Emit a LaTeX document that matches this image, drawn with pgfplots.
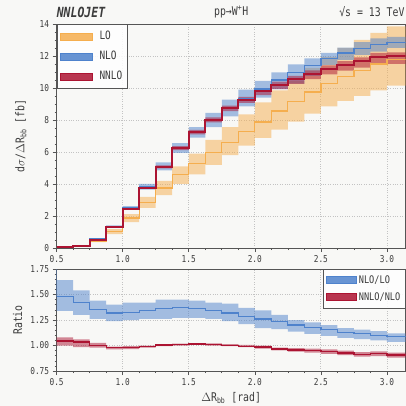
\documentclass[border=0pt]{standalone}
\usepackage{fontspec}
\setmainfont{DejaVu Sans Mono}[FakeStretch=0.82]
\usepackage{xcolor}
\usepackage{pgfplots}
\pgfplotsset{compat=1.18}
\usepgfplotslibrary{fillbetween}
\usepackage{pgfplotstable}

\definecolor{bgc}{RGB}{248,248,246}
\definecolor{loc}{RGB}{245,174,78}
\definecolor{nloc}{RGB}{78,130,204}
\definecolor{nnloc}{RGB}{172,20,50}
\definecolor{framec}{RGB}{85,85,85}
\definecolor{gridc}{RGB}{195,195,195}
\definecolor{txtc}{RGB}{60,60,60}

\pgfplotstableread{
x lo loup lodn nlo nloup nlodn nnlo nnloup nnlodn
0.5 0.03 0.035 0.025 0.05 0.06 0.04 0.05 0.055 0.045
0.625 0.10 0.12 0.085 0.15 0.17 0.13 0.13 0.14 0.12
0.75 0.42 0.48 0.36 0.56 0.60 0.52 0.53 0.55 0.51
0.875 1.02 1.18 0.86 1.33 1.42 1.25 1.29 1.32 1.26
1.0 1.87 2.12 1.62 2.50 2.62 2.40 2.46 2.51 2.41
1.125 2.85 3.20 2.50 3.82 4.00 3.65 3.78 3.85 3.70
1.25 3.75 4.20 3.30 5.10 5.35 4.85 5.07 5.16 4.97
1.375 4.58 5.10 4.00 6.25 6.55 5.95 6.25 6.36 6.12
1.5 5.27 5.90 4.60 7.20 7.55 6.90 7.25 7.38 7.10
1.625 5.97 6.75 5.20 8.05 8.44 7.55 8.02 8.16 7.85
1.75 6.60 7.55 5.80 8.75 9.27 8.23 8.75 8.90 8.56
1.875 7.27 8.35 6.40 9.35 9.90 8.85 9.28 9.45 9.07
2.0 7.88 9.10 6.88 9.93 10.45 9.40 9.80 9.98 9.56
2.125 8.56 9.85 7.40 10.50 10.98 9.93 10.20 10.40 9.93
2.25 9.15 10.45 7.90 10.95 11.48 10.28 10.55 10.76 10.25
2.375 9.75 11.25 8.40 11.42 11.85 10.76 10.88 11.10 10.55
2.5 10.28 11.95 8.85 11.85 12.20 11.45 11.20 11.42 10.85
2.625 10.70 12.50 9.20 12.18 12.53 11.76 11.45 11.68 11.08
2.75 11.10 13.00 9.50 12.49 12.86 12.07 11.68 11.92 11.28
2.875 11.50 13.45 9.85 12.74 13.10 12.28 11.95 12.20 11.52
3.0 11.78 13.85 10.15 12.86 13.20 12.50 11.98 12.22 11.50
3.1416 11.78 13.85 10.15 12.86 13.20 12.50 11.98 12.22 11.50
}\tabmain

\pgfplotstableread{
x ra raup radn rb rbup rbdn
0.375 2.0 2.0 2.0 1.043 1.08 1.00
0.5 1.477 1.64 1.34 1.043 1.08 1.00
0.625 1.42 1.54 1.30 1.033 1.06 0.985
0.75 1.35 1.44 1.26 1.00 1.025 0.98
0.875 1.32 1.40 1.24 0.977 0.99 0.963
1.0 1.325 1.42 1.25 0.977 0.993 0.965
1.125 1.34 1.42 1.26 0.99 1.0 0.978
1.25 1.36 1.45 1.26 1.005 1.013 0.995
1.375 1.37 1.45 1.27 1.01 1.018 1.0
1.5 1.36 1.44 1.27 1.015 1.023 1.005
1.625 1.34 1.42 1.26 1.01 1.02 1.0
1.75 1.32 1.41 1.24 1.003 1.013 0.993
1.875 1.286 1.37 1.21 0.993 1.005 0.983
2.0 1.26 1.345 1.17 0.985 0.998 0.97
2.125 1.234 1.30 1.16 0.966 0.98 0.952
2.25 1.20 1.25 1.135 0.957 0.975 0.94
2.375 1.178 1.227 1.115 0.95 0.97 0.93
2.5 1.155 1.20 1.095 0.94 0.962 0.918
2.625 1.13 1.17 1.076 0.926 0.95 0.905
2.75 1.115 1.155 1.063 0.915 0.936 0.892
2.875 1.10 1.14 1.05 0.922 0.942 0.895
3.0 1.09 1.12 1.036 0.908 0.93 0.88
3.1416 1.09 1.12 1.036 0.908 0.93 0.88
}\tabratio

\pgfplotsset{
  myaxis/.style={
    scale only axis,
    width=349pt,
    xmin=0.5, xmax=3.1416,
    clip mode=individual,
    axis line style={framec, line width=0.8pt},
    tick align=outside,
    tick pos=left,
    major tick length=4pt,
    minor tick length=2pt,
    every tick/.style={framec, line width=0.6pt},
    grid=major,
    major grid style={gridc, dotted, line width=0.8pt},
    xtick={0.5,1.0,1.5,2.0,2.5,3.0},
    minor x tick num=3,
    /pgf/number format/assume math mode=true,
    tick label style={font=\fontsize{9.5}{10}\selectfont, text=txtc},
    xticklabel style={/pgf/number format/fixed, /pgf/number format/fixed zerofill, /pgf/number format/precision=1},
    label style={font=\fontsize{12}{13}\selectfont, text=txtc},
    legend cell align=left,
    legend style={draw=framec, fill=white, fill opacity=0.85, text opacity=1,
      font=\fontsize{11.5}{12}\selectfont, text=txtc, inner xsep=3pt, inner ysep=5pt,
      row sep=6pt, line width=0.6pt},
  },
  patch/.style={legend image code/.code={\fill[#1] (0pt,-3.5pt) rectangle (32pt,3.5pt); \path (37pt,0pt);}},
  patchb/.style={legend image code/.code={\fill[#1] (0pt,-3.5pt) rectangle (30pt,3.5pt);}},
}

\begin{document}
\pagecolor{bgc}
\begin{tikzpicture}

\begin{axis}[myaxis, at={(0pt,0pt)}, anchor=north west, height=224pt,
  ymin=0, ymax=14, ytick={0,2,...,14}, minor y tick num=3,
  ylabel={d$\sigma$/$\Delta$R\textsubscript{bb} [fb]},
  ylabel style={at={(axis description cs:0,0.5)}, anchor=center, yshift=35.7pt},
  legend style={at={(0,1)}, anchor=north west}]
\addlegendimage{patch=loc}
\addlegendentry{LO}
\addlegendimage{patch=nloc}
\addlegendentry{NLO}
\addlegendimage{patch=nnloc}
\addlegendentry{NNLO}

\addplot[name path=loU, const plot, draw=none, forget plot] table[x=x,y=loup]{\tabmain};
\addplot[name path=loD, const plot, draw=none, forget plot] table[x=x,y=lodn]{\tabmain};
\addplot[loc, fill opacity=0.5, draw=none, forget plot] fill between[of=loU and loD];
\addplot[loc, line width=1.3pt, const plot, forget plot] table[x=x,y=lo]{\tabmain};

\addplot[name path=nloU, const plot, draw=none, forget plot] table[x=x,y=nloup]{\tabmain};
\addplot[name path=nloD, const plot, draw=none, forget plot] table[x=x,y=nlodn]{\tabmain};
\addplot[nloc, fill opacity=0.5, draw=none, forget plot] fill between[of=nloU and nloD];
\addplot[nloc, line width=1.3pt, const plot, forget plot] table[x=x,y=nlo]{\tabmain};

\addplot[name path=nnloU, const plot, draw=none, forget plot] table[x=x,y=nnloup]{\tabmain};
\addplot[name path=nnloD, const plot, draw=none, forget plot] table[x=x,y=nnlodn]{\tabmain};
\addplot[nnloc, fill opacity=0.5, draw=none, forget plot] fill between[of=nnloU and nnloD];
\addplot[nnloc, line width=2pt, const plot, forget plot] table[x=x,y=nnlo]{\tabmain};

\node[anchor=west, font=\fontsize{14}{15}\selectfont\bfseries\itshape, text=txtc, yshift=12pt, inner xsep=0pt] at (axis description cs:0,1) {NNLOJET};
\node[font=\fontsize{12}{13}\selectfont, text=txtc, yshift=12pt] at (axis description cs:0.5,1) {pp→W\textsuperscript{+}H};
\node[anchor=east, font=\fontsize{12}{13}\selectfont, text=txtc, yshift=12pt, inner xsep=1pt] at (axis description cs:1,1) {√s = 13 TeV};
\end{axis}

\begin{axis}[myaxis, at={(0pt,-245pt)}, anchor=north west, height=102pt,
  ymin=0.75, ymax=1.75, ytick={0.75,1.0,1.25,1.5,1.75}, minor y tick num=4,
  yticklabel style={/pgf/number format/fixed, /pgf/number format/fixed zerofill, /pgf/number format/precision=2},
  ylabel={Ratio},
  ylabel style={at={(axis description cs:0,0.5)}, anchor=center, yshift=39pt},
  xlabel={$\Delta$R\textsubscript{bb} [rad]},
  legend style={at={(1,1)}, anchor=north east, font=\fontsize{10.5}{12}\selectfont, row sep=4pt, inner ysep=4pt}]
\addlegendimage{patchb=nloc}
\addlegendentry{NLO/LO}
\addlegendimage{patchb=nnloc}
\addlegendentry{NNLO/NLO}

\addplot[name path=raU, const plot, draw=none, forget plot] table[x=x,y=raup]{\tabratio};
\addplot[name path=raD, const plot, draw=none, forget plot] table[x=x,y=radn]{\tabratio};
\addplot[nloc, fill opacity=0.5, draw=none, forget plot] fill between[of=raU and raD];
\addplot[nloc, line width=1.3pt, const plot, forget plot] table[x=x,y=ra]{\tabratio};

\addplot[name path=rbU, const plot, draw=none, forget plot] table[x=x,y=rbup]{\tabratio};
\addplot[name path=rbD, const plot, draw=none, forget plot] table[x=x,y=rbdn]{\tabratio};
\addplot[nnloc, fill opacity=0.5, draw=none, forget plot] fill between[of=rbU and rbD];
\addplot[nnloc, line width=1.3pt, const plot, forget plot] table[x=x,y=rb]{\tabratio};
\end{axis}
\pgfresetboundingbox
\useasboundingbox (-51.7pt,-382pt) rectangle (349.3pt,24pt);
\end{tikzpicture}
\end{document}
